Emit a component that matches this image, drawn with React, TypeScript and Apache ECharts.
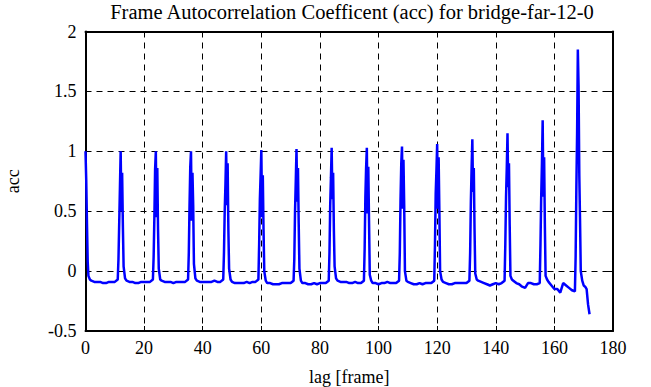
import React, { useEffect, useRef } from "react";
import * as echarts from "echarts";

const titleText = "Frame Autocorrelation Coefficent (acc) for bridge-far-12-0";
const xName = "lag [frame]";
const yName = "acc";

const lagRows: number[][] = [
  [0, 0.25, 0.5, 0.75, 1, 1.5, 2, 3, 4, 5, 6, 7, 8, 9, 10, 11],
  [11.25, 11.5, 11.75, 12, 12.25, 12.5, 12.75, 13, 13.5, 14, 15, 16, 17, 18, 19, 20, 21, 22, 23],
  [23.25, 23.5, 23.75, 24, 24.25, 24.5, 24.75, 25, 25.5, 26, 27, 28, 29, 30, 31, 32, 33, 34, 35],
  [35.25, 35.5, 35.75, 36, 36.25, 36.5, 36.75, 37, 37.5, 38, 39, 40, 41, 42, 43, 44, 45, 46, 47],
  [47.25, 47.5, 47.75, 48, 48.25, 48.5, 48.75, 49, 49.5, 50, 51, 52, 53, 54, 55, 56, 57, 58, 59],
  [59.25, 59.5, 59.75, 60, 60.25, 60.5, 60.75, 61, 61.5, 62, 63, 64, 65, 66, 67, 68, 69, 70, 71],
  [71.25, 71.5, 71.75, 72, 72.25, 72.5, 72.75, 73, 73.5, 74, 75, 76, 77, 78, 79, 80, 81, 82, 83],
  [83.25, 83.5, 83.75, 84, 84.25, 84.5, 84.75, 85, 85.5, 86, 87, 88, 89, 90, 91, 92, 93, 94, 95],
  [95.25, 95.5, 95.75, 96, 96.25, 96.5, 96.75, 97, 97.5, 98, 99, 100, 101, 102, 103, 104, 105, 106, 107],
  [107.25, 107.5, 107.75, 108, 108.25, 108.5, 108.75, 109, 109.5, 110, 111, 112, 113, 114, 115, 116, 117, 118, 119],
  [119.25, 119.5, 119.75, 120, 120.25, 120.5, 120.75, 121, 121.5, 122, 123, 124, 125, 126, 127, 128, 129, 130, 131],
  [131.25, 131.5, 131.75, 132, 132.25, 132.5, 132.75, 133, 133.5, 134, 135, 136, 137, 138, 139, 140, 141, 142, 143],
  [143.25, 143.5, 143.75, 144, 144.25, 144.5, 144.75, 145, 145.5, 146, 147, 148, 149, 150, 151, 152, 153, 154, 155],
  [155.25, 155.5, 155.75, 156, 156.25, 156.5, 156.75, 157, 157.5, 158, 159, 160, 161, 162, 163, 164, 165, 166, 167],
  [167.25, 167.5, 167.75, 168, 168.25, 168.5, 168.75, 169, 169.5, 170, 170.5, 171, 171.5, 172],
];

const accRows: number[][] = [
  [1.0, 0.76, 0.4, 0.08, -0.04, -0.07, -0.08, -0.09, -0.09, -0.09, -0.1, -0.1, -0.09, -0.09, -0.09, -0.07],
  [0.1, 0.4, 0.7, 1.0, 0.5, 0.82, 0.38, 0.04, -0.06, -0.08, -0.09, -0.09, -0.1, -0.1, -0.09, -0.09, -0.09, -0.09, -0.07],
  [0.12, 0.45, 0.85, 1.0, 0.45, 0.86, 0.35, 0.02, -0.07, -0.08, -0.09, -0.09, -0.09, -0.1, -0.09, -0.09, -0.09, -0.09, -0.07],
  [0.15, 0.55, 0.87, 1.0, 0.42, 0.82, 0.55, 0.06, -0.06, -0.08, -0.09, -0.09, -0.09, -0.09, -0.09, -0.08, -0.09, -0.09, -0.07],
  [0.15, 0.5, 0.72, 1.0, 0.55, 0.9, 0.35, 0.02, -0.07, -0.09, -0.1, -0.1, -0.1, -0.1, -0.09, -0.1, -0.09, -0.09, -0.07],
  [0.22, 0.6, 0.8, 1.01, 0.45, 0.8, 0.35, 0.0, -0.08, -0.1, -0.1, -0.11, -0.11, -0.11, -0.1, -0.1, -0.1, -0.1, -0.08],
  [0.1, 0.5, 0.75, 1.02, 0.58, 0.86, 0.4, 0.02, -0.08, -0.1, -0.1, -0.11, -0.11, -0.1, -0.11, -0.1, -0.1, -0.1, -0.08],
  [0.15, 0.55, 0.78, 1.03, 0.6, 0.82, 0.35, 0.04, -0.06, -0.08, -0.09, -0.09, -0.09, -0.1, -0.1, -0.09, -0.1, -0.1, -0.08],
  [0.18, 0.62, 0.86, 1.03, 0.48, 0.87, 0.42, -0.03, -0.08, -0.1, -0.1, -0.11, -0.1, -0.1, -0.09, -0.1, -0.1, -0.1, -0.08],
  [0.15, 0.6, 0.9, 1.04, 0.52, 0.93, 0.55, 0.0, -0.08, -0.09, -0.1, -0.11, -0.11, -0.1, -0.11, -0.1, -0.1, -0.1, -0.08],
  [0.22, 0.65, 0.84, 1.06, 0.52, 0.95, 0.5, 0.0, -0.07, -0.09, -0.1, -0.11, -0.11, -0.1, -0.1, -0.1, -0.1, -0.1, -0.08],
  [0.15, 0.58, 0.86, 1.1, 0.66, 0.86, 0.35, -0.02, -0.07, -0.08, -0.09, -0.1, -0.11, -0.12, -0.11, -0.1, -0.11, -0.1, -0.08],
  [0.22, 0.62, 0.86, 1.15, 0.7, 0.9, 0.38, -0.04, -0.07, -0.08, -0.1, -0.11, -0.13, -0.14, -0.1, -0.1, -0.11, -0.11, -0.1],
  [0.22, 0.62, 0.9, 1.26, 0.62, 0.95, 0.38, -0.04, -0.07, -0.09, -0.12, -0.15, -0.15, -0.18, -0.1, -0.12, -0.14, -0.16, -0.17],
  [0.12, 0.7, 1.15, 1.85, 1.55, 0.8, 0.43, 0.0, -0.08, -0.12, -0.13, -0.15, -0.28, -0.36],
];

const FONT = "Liberation Serif";

export default function App() {
  const ref = useRef<HTMLDivElement>(null);
  useEffect(() => {
    if (!ref.current) return;
    const chart = echarts.init(ref.current, undefined, { renderer: "svg" });
    const lags = lagRows.flat();
    const accs = accRows.flat();
    const data = lags.map((l, i) => [l, accs[i]]);
    const axisLine = { show: true, onZero: false, lineStyle: { color: "#000", width: 2 } };
    const axisTick = { show: true, inside: true, length: 5, lineStyle: { color: "#000", width: 1 } };
    const labelStyle = { color: "#000", fontFamily: FONT, fontSize: 18 };
    const rich = { t: { color: "#000", fontFamily: FONT, fontSize: 18 } };
    chart.setOption({
      animation: false,
      backgroundColor: "#fff",
      textStyle: { fontFamily: FONT },
      title: {
        text: titleText,
        left: 347,
        top: -4,
        textAlign: "center",
        textStyle: { color: "#000", fontFamily: FONT, fontSize: 20.5, fontWeight: "normal" },
      },
      grid: {
        left: 85.5,
        right: 38,
        top: 31.5,
        bottom: 56,
        containLabel: false,
        outerBoundsMode: "none",
      },
      xAxis: [
        {
          type: "value",
          position: "bottom",
          min: 0,
          max: 180,
          interval: 20,
          axisLine,
          axisTick,
          axisLabel: { ...labelStyle, margin: 8, rich, formatter: (v: number) => `{t|${v}}` },
          splitLine: { show: true, lineStyle: { color: "#000", width: 1, type: [6, 5] } },
          name: xName,
          nameLocation: "middle",
          nameGap: 37,
          nameTextStyle: { ...labelStyle },
        },
        {
          type: "value",
          position: "top",
          min: 0,
          max: 180,
          interval: 20,
          axisLine,
          axisTick,
          axisLabel: { show: false },
          splitLine: { show: false },
        },
      ],
      yAxis: [
        {
          type: "value",
          position: "left",
          min: -0.5,
          max: 2,
          interval: 0.5,
          axisLine,
          axisTick,
          axisLabel: { ...labelStyle, margin: 9, rich, formatter: (v: number) => `{t|${v}}` },
          splitLine: { show: true, lineStyle: { color: "#000", width: 1, type: [6, 5] } },
          name: yName,
          nameLocation: "middle",
          nameGap: 64,
          nameRotate: 90,
          nameTextStyle: { ...labelStyle },
        },
        {
          type: "value",
          position: "right",
          min: -0.5,
          max: 2,
          interval: 0.5,
          axisLine,
          axisTick,
          axisLabel: { show: false },
          splitLine: { show: false },
        },
      ],
      series: [
        {
          type: "line",
          xAxisIndex: 0,
          yAxisIndex: 0,
          data,
          showSymbol: false,
          symbol: "none",
          lineStyle: { color: "#0000ff", width: 2.5 },
          itemStyle: { color: "#0000ff" },
        },
      ],
    });
    return () => chart.dispose();
  }, []);
  return (
    <div
      ref={ref}
      style={{ position: "fixed", left: 0, top: 0, width: 651, height: 387, background: "#fff" }}
    />
  );
}
